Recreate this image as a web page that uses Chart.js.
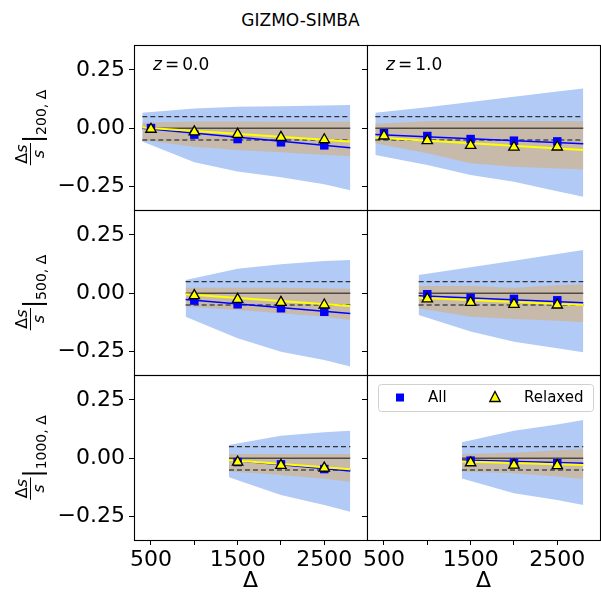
<!DOCTYPE html>
<html>
<head>
<meta charset="utf-8">
<script src="https://cdn.jsdelivr.net/npm/chart.js"></script>
<style>
  body { margin: 0; background: #fff; }
  #wrap { position: relative; width: 601px; height: 594px; overflow: hidden; font-family: 'DejaVu Sans', sans-serif; }
  #title { position: absolute; left: 0; top: 10px; width: 601px; text-align: center; font-size: 17px; line-height: 20px; color: #000; }
  canvas { position: absolute; }
</style>
</head>
<body>
<div id="wrap">
  <div id="title">GIZMO-SIMBA</div>
</div>
<script>
const redshifts = ['0.0', '1.0'];
const apertures = ['200', '500', '1000'];
const xTicks = [500, 1000, 1500, 2000, 2500];
const xLabelled = [500, 1500, 2500];
const yTicks = [-0.25, 0, 0.25];
const refLevels = [0, 0.05, -0.05];

// Delta values of the points in each row (200, 500, 1000)
const deltas = [[500, 1000, 1500, 2000, 2500], [1000, 1500, 2000, 2500], [1500, 2000, 2500]];
// x nodes of the shaded bands and the fit lines
const bandX = [[400, 1000, 1500, 2000, 2500, 2800], [900, 1500, 2000, 2500, 2800], [1400, 2000, 2500, 2800]];

// points: All / Relaxed, z = 0.0 and z = 1.0
const allZ0 = [[0.001, -0.027, -0.046, -0.060, -0.073], [-0.031, -0.047, -0.064, -0.079], [-0.016, -0.026, -0.046]];
const allZ1 = [[-0.021, -0.033, -0.046, -0.053, -0.056], [-0.004, -0.019, -0.024, -0.030], [-0.010, -0.019, -0.021]];
const relZ0 = [[-0.004, -0.015, -0.026, -0.039, -0.049], [-0.010, -0.026, -0.039, -0.050], [-0.016, -0.030, -0.042]];
const relZ1 = [[-0.033, -0.053, -0.073, -0.081, -0.080], [-0.024, -0.039, -0.047, -0.050], [-0.019, -0.029, -0.031]];

// fit lines, value at first and last band node
const allFitZ0 = [[0.000, -0.083], [-0.026, -0.086], [-0.007, -0.054]];
const allFitZ1 = [[-0.027, -0.066], [-0.010, -0.040], [-0.007, -0.021]];
const relFitZ0 = [[0.004, -0.057], [-0.004, -0.054], [-0.007, -0.047]];
const relFitZ1 = [[-0.039, -0.093], [-0.019, -0.050], [-0.014, -0.029]];

// scatter bands (outer = blue, inner = tan)
const outerHiZ0 = [[0.067, 0.085, 0.092, 0.095, 0.098, 0.100], [0.057, 0.105, 0.125, 0.138, 0.143], [0.057, 0.097, 0.112, 0.118]];
const outerLoZ0 = [[-0.057, -0.145, -0.185, -0.210, -0.240, -0.265], [-0.100, -0.193, -0.250, -0.286, -0.314], [-0.081, -0.157, -0.200, -0.229]];
const innerHiZ0 = [[0.024, 0.029, 0.029, 0.028, 0.028, 0.028], [0.024, 0.024, 0.024, 0.022, 0.020], [0.019, 0.019, 0.019, 0.019]];
const innerLoZ0 = [[-0.050, -0.079, -0.093, -0.103, -0.113, -0.120], [-0.057, -0.071, -0.085, -0.100, -0.114], [-0.057, -0.071, -0.088, -0.100]];
const outerHiZ1 = [[0.067, 0.090, 0.113, 0.135, 0.158, 0.171], [0.078, 0.112, 0.140, 0.169, 0.186], [0.069, 0.118, 0.145, 0.164]];
const outerLoZ1 = [[-0.114, -0.157, -0.200, -0.229, -0.270, -0.293], [-0.093, -0.164, -0.207, -0.235, -0.253], [-0.086, -0.150, -0.179, -0.200]];
const innerHiZ1 = [[0.020, 0.030, 0.030, 0.030, 0.030, 0.030], [0.031, 0.031, 0.024, 0.035, 0.039], [0.019, 0.024, 0.035, 0.039]];
const innerLoZ1 = [[-0.064, -0.107, -0.150, -0.165, -0.172, -0.176], [-0.064, -0.100, -0.110, -0.118, -0.124], [-0.057, -0.064, -0.078, -0.089]];

const FONT = '"DejaVu Sans"';
Chart.defaults.font.family = FONT;
const pts = (xs, ys) => xs.map((x, i) => ({ x: x, y: ys[i] }));
const noPad = s => { s.paddingLeft = 0; s.paddingRight = 0; s.paddingTop = 0; s.paddingBottom = 0; };

function drawYTitle(ctx, cy, sub) {
  ctx.save();
  ctx.translate(0, cy);
  ctx.rotate(-Math.PI / 2);
  ctx.fillStyle = '#000';
  ctx.textBaseline = 'alphabetic';
  const up = '16px ' + FONT, it = 'italic 16px ' + FONT, small = '14px ' + FONT, big = '24px ' + FONT;
  ctx.font = up; const wD = ctx.measureText('Δ').width;
  ctx.font = it; const wS = ctx.measureText('s').width;
  const fw = wD + wS + 3;
  ctx.font = big; const wBar = ctx.measureText('|').width;
  ctx.font = small; const wSub = ctx.measureText(sub + ', Δ').width;
  let u = -(fw + wBar + wSub) / 2;
  ctx.font = up; ctx.fillText('Δ', u + 1.5, 27);
  ctx.font = it; ctx.fillText('s', u + 1.5 + wD, 27);
  ctx.fillRect(u, 30, fw, 1);
  ctx.fillText('s', u + (fw - wS) / 2, 44);
  u += fw;
  ctx.font = big; ctx.fillText('|', u, 41);
  u += wBar;
  ctx.font = small; ctx.fillText(sub + ', Δ', u, 46);
  ctx.restore();
}

function drawLegend(ctx, ca) {
  const x0 = ca.left + 11, y0 = ca.top + 9, w = 215, h = 27;
  ctx.save();
  ctx.fillStyle = 'rgba(255,255,255,0.8)';
  ctx.strokeStyle = '#d0d0d0';
  ctx.lineWidth = 1;
  ctx.beginPath();
  ctx.roundRect(x0 + 0.5, y0 + 0.5, w, h, 3);
  ctx.fill();
  ctx.stroke();
  const cy = y0 + 13.5;
  ctx.fillStyle = 'blue';
  ctx.fillRect(ca.left + 29, cy - 4, 8, 8);
  const tx = ca.left + 128;
  ctx.beginPath();
  ctx.moveTo(tx, cy - 6);
  ctx.lineTo(tx + 5.2, cy + 4);
  ctx.lineTo(tx - 5.2, cy + 4);
  ctx.closePath();
  ctx.fillStyle = 'yellow';
  ctx.fill();
  ctx.strokeStyle = '#000';
  ctx.lineWidth = 1.3;
  ctx.stroke();
  ctx.fillStyle = '#000';
  ctx.font = '15px ' + FONT;
  ctx.textBaseline = 'alphabetic';
  ctx.fillText('All', ca.left + 61, ca.top + 26.5);
  ctx.fillText('Relaxed', ca.left + 157, ca.top + 26.5);
  ctx.restore();
}

function makePanel(row, col) {
  const z1 = col === 1;
  const bx = bandX[row];
  const xs = [bx[0], bx[bx.length - 1]];
  const left = col === 0 ? 0 : 357;
  const width = col === 0 ? 368 : 244;
  const top = 45 + 165 * row - 5;
  const height = row === 2 ? 594 - top : 175;

  const cv = document.createElement('canvas');
  cv.width = width; cv.height = height;
  cv.style.left = left + 'px'; cv.style.top = top + 'px';
  document.getElementById('wrap').appendChild(cv);

  const line = (data, color, w, dash, extra) => Object.assign({
    data: data, borderColor: color, borderWidth: w, borderDash: dash || [],
    pointRadius: 0, tension: 0, fill: false
  }, extra || {});

  const datasets = [
    line(pts(bx, (z1 ? outerHiZ1 : outerHiZ0)[row]), 'transparent', 0),
    line(pts(bx, (z1 ? outerLoZ1 : outerLoZ0)[row]), 'transparent', 0, null, { fill: '-1', backgroundColor: 'rgba(100,149,237,0.5)' }),
    line(pts(bx, (z1 ? innerHiZ1 : innerHiZ0)[row]), 'transparent', 0),
    line(pts(bx, (z1 ? innerLoZ1 : innerLoZ0)[row]), 'transparent', 0, null, { fill: '-1', backgroundColor: 'rgba(210,180,140,0.7)' }),
    line(pts(xs, [refLevels[0], refLevels[0]]), 'rgba(0,0,0,0.6)', 1.6),
    line(pts(xs, [refLevels[1], refLevels[1]]), '#333', 1.2, [5, 3]),
    line(pts(xs, [refLevels[2], refLevels[2]]), '#666', 2, [5, 3]),
    line(pts(xs, (z1 ? allFitZ1 : allFitZ0)[row]), 'blue', 1.5),
    line(pts(xs, (z1 ? relFitZ1 : relFitZ0)[row]), 'yellow', 2),
    { data: pts(deltas[row], (z1 ? allZ1 : allZ0)[row]), showLine: false, pointStyle: 'rect',
      pointRadius: 6, backgroundColor: 'blue', borderColor: 'blue', borderWidth: 0 },
    { data: pts(deltas[row], (z1 ? relZ1 : relZ0)[row]), showLine: false, pointStyle: 'triangle',
      pointRadius: 6, backgroundColor: 'yellow', borderColor: '#000', borderWidth: 1.3 }
  ];
  datasets.forEach((d, i) => { d.order = datasets.length - i; });

  const panelPlugin = {
    id: 'panelDecor',
    afterDraw(chart) {
      const ctx = chart.ctx, ca = chart.chartArea;
      ctx.save();
      ctx.strokeStyle = '#000';
      ctx.lineWidth = 1.1;
      const l = Math.floor(ca.left) + 0.5, t = Math.floor(ca.top) + 0.5;
      ctx.strokeRect(l, t, Math.floor(ca.right) - Math.floor(ca.left), Math.floor(ca.bottom) - Math.floor(ca.top));
      ctx.restore();
      if (row === 0) {
        // z = 0.0 / z = 1.0, mathtext-like spacing
        ctx.save();
        ctx.fillStyle = '#000';
        ctx.textBaseline = 'alphabetic';
        let zx = ca.left + 19;
        const zy = ca.top + 24.5;
        ctx.font = 'italic 17px ' + FONT;
        ctx.fillText('z', zx, zy);
        zx += ctx.measureText('z').width + 3;
        ctx.font = '17px ' + FONT;
        ctx.fillText('=', zx, zy);
        zx += ctx.measureText('=').width + 3;
        ctx.fillText(redshifts[col], zx, zy);
        ctx.restore();
      }
      if (col === 0) drawYTitle(ctx, (ca.top + ca.bottom) / 2, apertures[row]);
      if (row === 2 && col === 1) drawLegend(ctx, ca);
    }
  };

  return new Chart(cv.getContext('2d'), {
    type: 'line',
    data: { datasets: datasets },
    options: {
      responsive: false,
      animation: false,
      events: [],
      layout: { autoPadding: false, padding: { left: 0, right: 1, top: 5, bottom: row === 2 ? 0 : 5 } },
      plugins: { legend: { display: false }, tooltip: { enabled: false } },
      scales: {
        x: {
          type: 'linear', min: 304, max: 2993,
          display: row === 2,
          afterBuildTicks: s => { s.ticks = xTicks.map(v => ({ value: v })); },
          afterFit: s => { s.height = row === 2 ? 54 : 0; noPad(s); },
          ticks: {
            autoSkip: false, maxRotation: 0, minRotation: 0, padding: 2, color: '#000',
            font: { family: FONT, size: 22 },
            callback: v => xLabelled.includes(v) ? String(v) : ''
          },
          grid: { drawOnChartArea: false, tickLength: 5, color: '#000', tickWidth: 1 },
          border: { display: false },
          title: { display: true, text: 'Δ', color: '#000', font: { family: FONT, size: 22 }, padding: { top: 0, bottom: 0 } }
        },
        y: {
          type: 'linear', min: -0.35, max: 0.357,
          afterBuildTicks: s => { s.ticks = yTicks.map(v => ({ value: v })); },
          afterFit: s => { s.width = col === 0 ? 134 : 10; noPad(s); },
          ticks: {
            display: col === 0, padding: 4, color: '#000',
            font: { family: FONT, size: 22 },
            callback: v => (v < 0 ? '\u2212' : '') + Math.abs(v).toFixed(2)
          },
          grid: { drawOnChartArea: false, tickLength: 5, color: '#000', tickWidth: 1 },
          border: { display: false }
        }
      }
    },
    plugins: [panelPlugin]
  });
}

for (let r = 0; r < 3; r++) {
  for (let c = 0; c < 2; c++) makePanel(r, c);
}
</script>
</body>
</html>
